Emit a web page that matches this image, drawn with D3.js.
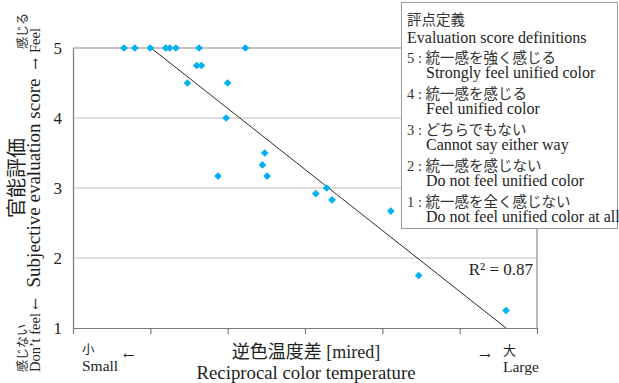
<!DOCTYPE html>
<html>
<head>
<meta charset="utf-8">
<script src="https://cdn.jsdelivr.net/npm/d3@7"></script>
<style>
  body { margin: 0; background: #fff; }
  svg { display: block; }
</style>
</head>
<body>
<script>
// reciprocal color temperature difference (in tick units, no labels shown) vs score
var mired = [0.66, 0.80, 1.00, 1.20, 1.25, 1.33, 1.63, 2.23,
             1.60, 1.66, 1.48, 2.00, 1.98,
             2.48, 2.45, 1.875, 2.51,
             3.14, 3.28, 3.35, 4.11, 4.47, 5.60];
var score = [5, 5, 5, 5, 5, 5, 5, 5,
             4.75, 4.75, 4.5, 4.5, 4.0,
             3.5, 3.33, 3.17, 3.17,
             2.92, 3.0, 2.83, 2.67, 1.75, 1.25];

var yTicks = [1, 2, 3, 4, 5];
var xTicks = [0, 1, 2, 3, 4, 5, 6];
var gridTicks = [2, 3, 4];

// linear trend
var trendSlope = -0.8715;
var trendIntercept = 5.880;
var r2Text = 'R² = 0.87';

var legendTitle = ['評点定義', 'Evaluation score definitions'];
var legendJa = ['5 : 統一感を強く感じる', '4 : 統一感を感じる', '3 : どちらでもない',
                '2 : 統一感を感じない', '1 : 統一感を全く感じない'];
var legendEn = ['Strongly feel unified color', 'Feel unified color', 'Cannot say either way',
                'Do not feel unified color', 'Do not feel unified color at all'];

var width = 619, height = 383;
var serif = '"Liberation Serif", "Noto Sans CJK JP", serif';
var cjk = '"Noto Sans CJK JP", "Liberation Serif", sans-serif';
var arrowFont = '"DejaVu Serif", serif';
var ink = '#1e1e1e';

var svg = d3.select('body').append('svg')
    .attr('width', width).attr('height', height);

var x = d3.scaleLinear().domain([0, 6]).range([73, 537]);
var y = d3.scaleLinear().domain([1, 5]).range([328, 48]);

// gridlines
svg.selectAll('line.grid')
    .data(gridTicks)
    .enter().append('line')
    .attr('class', 'grid')
    .attr('x1', x(0)).attr('x2', x(6))
    .attr('y1', function(d) { return y(d); })
    .attr('y2', function(d) { return y(d); })
    .attr('stroke', '#bdbdbd').attr('stroke-width', 1.2);

// plot border (top / right)
svg.append('path')
    .attr('d', 'M' + x(0) + ',' + y(5) + 'H' + x(6) + 'V' + y(1))
    .attr('fill', 'none').attr('stroke', '#8a8a8a').attr('stroke-width', 1.2);

// x axis
var xAxis = d3.axisBottom(x).tickValues(xTicks).tickFormat('').tickSize(6).tickSizeOuter(0);
var gx = svg.append('g').attr('transform', 'translate(0,' + y(1) + ')').call(xAxis);
gx.selectAll('path, line').attr('stroke', '#7a7a7a').attr('stroke-width', 1.2);

// y axis
var yAxis = d3.axisLeft(y).tickValues(yTicks).tickFormat(d3.format('d'))
    .tickSize(0).tickPadding(11).tickSizeOuter(0);
var gy = svg.append('g').attr('transform', 'translate(' + x(0) + ',0)').call(yAxis);
gy.select('path').attr('stroke', '#7a7a7a').attr('stroke-width', 1.2);
gy.selectAll('text')
    .attr('font-family', serif).attr('font-size', 17).attr('fill', ink);

// trend line, clipped to score range 1..5
var xStart = (5 - trendIntercept) / trendSlope;
var xEnd = (1 - trendIntercept) / trendSlope;
svg.append('line')
    .attr('x1', x(xStart)).attr('y1', y(trendSlope * xStart + trendIntercept))
    .attr('x2', x(xEnd)).attr('y2', y(trendSlope * xEnd + trendIntercept))
    .attr('stroke', '#2a2a2a').attr('stroke-width', 1);

// points
var diamond = d3.symbol().type(d3.symbolSquare).size(30);
svg.selectAll('path.pt')
    .data(mired)
    .enter().append('path')
    .attr('class', 'pt')
    .attr('d', diamond)
    .attr('transform', function(d, i) {
        return 'translate(' + x(d) + ',' + y(score[i]) + ') rotate(45)';
    })
    .attr('fill', '#00b0f0');

svg.append('text')
    .attr('x', 533).attr('y', 275)
    .attr('text-anchor', 'end')
    .attr('font-family', serif).attr('font-size', 17).attr('fill', ink)
    .text(r2Text);

// legend box
var lg = svg.append('g');
lg.append('rect')
    .attr('x', 401.5).attr('y', 2.5).attr('width', 216).attr('height', 226)
    .attr('fill', '#fff').attr('stroke', '#9a9a9a').attr('stroke-width', 1);
lg.append('text').attr('x', 407).attr('y', 25)
    .attr('font-family', cjk).attr('font-size', 14.5).attr('fill', '#333')
    .text(legendTitle[0]);
lg.append('text').attr('x', 407).attr('y', 43)
    .attr('font-family', serif).attr('font-size', 16).attr('fill', ink)
    .text(legendTitle[1]);
lg.selectAll('text.ja')
    .data(legendJa)
    .enter().append('text')
    .attr('class', 'ja')
    .attr('x', 407).attr('y', function(d, i) { return 62.5 + i * 36; })
    .attr('font-family', serif).attr('font-size', 14.5).attr('fill', '#333')
    .text(function(d) { return d; });
lg.selectAll('text.en')
    .data(legendEn)
    .enter().append('text')
    .attr('class', 'en')
    .attr('x', 426).attr('y', function(d, i) { return 78 + i * 36; })
    .attr('font-family', serif).attr('font-size', 16).attr('fill', ink)
    .text(function(d) { return d; });

// x axis titles
function label(px, py, str, size, family, anchor) {
    return svg.append('text')
        .attr('x', px).attr('y', py)
        .attr('text-anchor', anchor || 'start')
        .attr('font-family', family).attr('font-size', size).attr('fill', ink)
        .text(str);
}
label(306, 357.5, '逆色温度差 [mired]', 18, serif, 'middle');
label(306, 378.5, 'Reciprocal color temperature', 18.8, serif, 'middle');
label(82, 354, '小', 12.5, cjk);
label(82, 371, 'Small', 15.5, serif);
label(123, 360, '←', 14, arrowFont);
label(479, 360, '→', 14, arrowFont);
label(503, 355, '大', 13, cjk);
label(503, 372, 'Large', 15.5, serif);

// y axis titles (rotated)
function vlabel(px, py, str, size, family, anchor) {
    return svg.append('text')
        .attr('transform', 'translate(' + px + ',' + py + ') rotate(-90)')
        .attr('text-anchor', anchor || 'middle')
        .attr('font-family', family).attr('font-size', size).attr('fill', ink)
        .text(str);
}
vlabel(24, 178, '官能評価', 20, cjk, 'middle');
vlabel(27, 372, '感じない', 12, cjk, 'start');
vlabel(27, 13, '感じる', 12, cjk, 'end');
vlabel(40, 183, 'Subjective evaluation score', 19, serif, 'middle');
vlabel(40, 372, 'Don’t feel', 14.5, serif, 'start');
vlabel(40, 304, '←', 14, arrowFont, 'middle');
vlabel(40, 28, 'Feel', 14.5, serif, 'end');
vlabel(40, 64, '→', 14, arrowFont, 'middle');
</script>
</body>
</html>
